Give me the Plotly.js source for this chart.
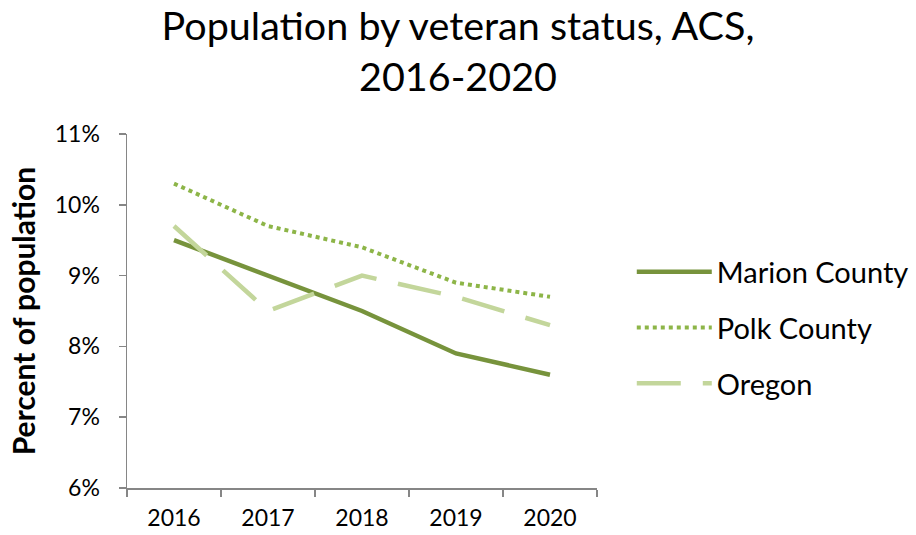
<!DOCTYPE html>
<html><head><meta charset="utf-8">
<script src="https://cdn.plot.ly/plotly-3.0.1.min.js"></script>
<style>html,body{margin:0;padding:0;background:#fff}#c{width:916px;height:535px}</style>
</head><body><div id="c"></div>
<script>
const years = ['2016','2017','2018','2019','2020'];
const marion = [9.5, 9.0, 8.5, 7.9, 7.6];
const polk = [10.3, 9.7, 9.4, 8.9, 8.7];
const oregon = [9.7, 8.5, 9.0, 8.7, 8.3];
const yTicks = [6, 7, 8, 9, 10, 11];

const FONT = 'Lato, "Open Sans", sans-serif';
const traces = [
  {x: years, y: marion, name: 'Marion County', type: 'scatter', mode: 'lines', legendgroup: 'a',
   line: {color: '#77933C', width: 4.5}},
  {x: years, y: polk, name: 'Polk County', type: 'scatter', mode: 'lines', legendgroup: 'b',
   line: {color: '#8DB548', width: 4, dash: 'dot'}},
  {x: years, y: oregon, name: 'Oregon', type: 'scatter', mode: 'lines', legendgroup: 'c',
   line: {color: '#C3D69B', width: 4.5, dash: '44px,22px'}}
];
const layout = {
  width: 916, height: 535,
  margin: {l: 127, r: 319, t: 134, b: 47, autoexpand: false},
  paper_bgcolor: '#fff', plot_bgcolor: '#fff',
  font: {family: FONT, color: '#000'},
  title: {text: 'Population by veteran status, ACS,<br>2016-2020', x: 0.5, xanchor: 'center',
          xref: 'container', y: 0.926, yanchor: 'middle', font: {size: 39.5, family: FONT, color: '#000'}},
  showlegend: true,
  legend: {x: 1.074, xanchor: 'left', y: 0.452, yanchor: 'middle', font: {size: 29, family: FONT},
           itemwidth: 75, tracegroupgap: 15, traceorder: 'grouped', bgcolor: 'rgba(0,0,0,0)'},
  xaxis: {type: 'category', range: [-0.5, 4.5], showgrid: false, zeroline: false,
          showline: true, linecolor: '#868686', linewidth: 1.5,
          ticks: 'outside', ticklen: 7, tickcolor: '#868686', tickwidth: 1.5,
          tickson: 'boundaries', ticklabelstandoff: 9, tickfont: {size: 23, family: FONT}, fixedrange: true},
  yaxis: {range: [6, 11], tickvals: yTicks, ticktext: yTicks.map(v => v + '%'),
          showgrid: false, zeroline: false, showline: true, linecolor: '#868686', linewidth: 1.5,
          ticks: 'outside', ticklen: 7, tickcolor: '#868686', tickwidth: 1.5,
          ticklabelstandoff: 14, tickfont: {size: 23, family: FONT},
          title: {text: '<b>Percent of population</b>', font: {size: 30, family: FONT}, standoff: 10}}
};
Plotly.newPlot('c', traces, layout, {displayModeBar: false, staticPlot: true});
</script></body></html>
